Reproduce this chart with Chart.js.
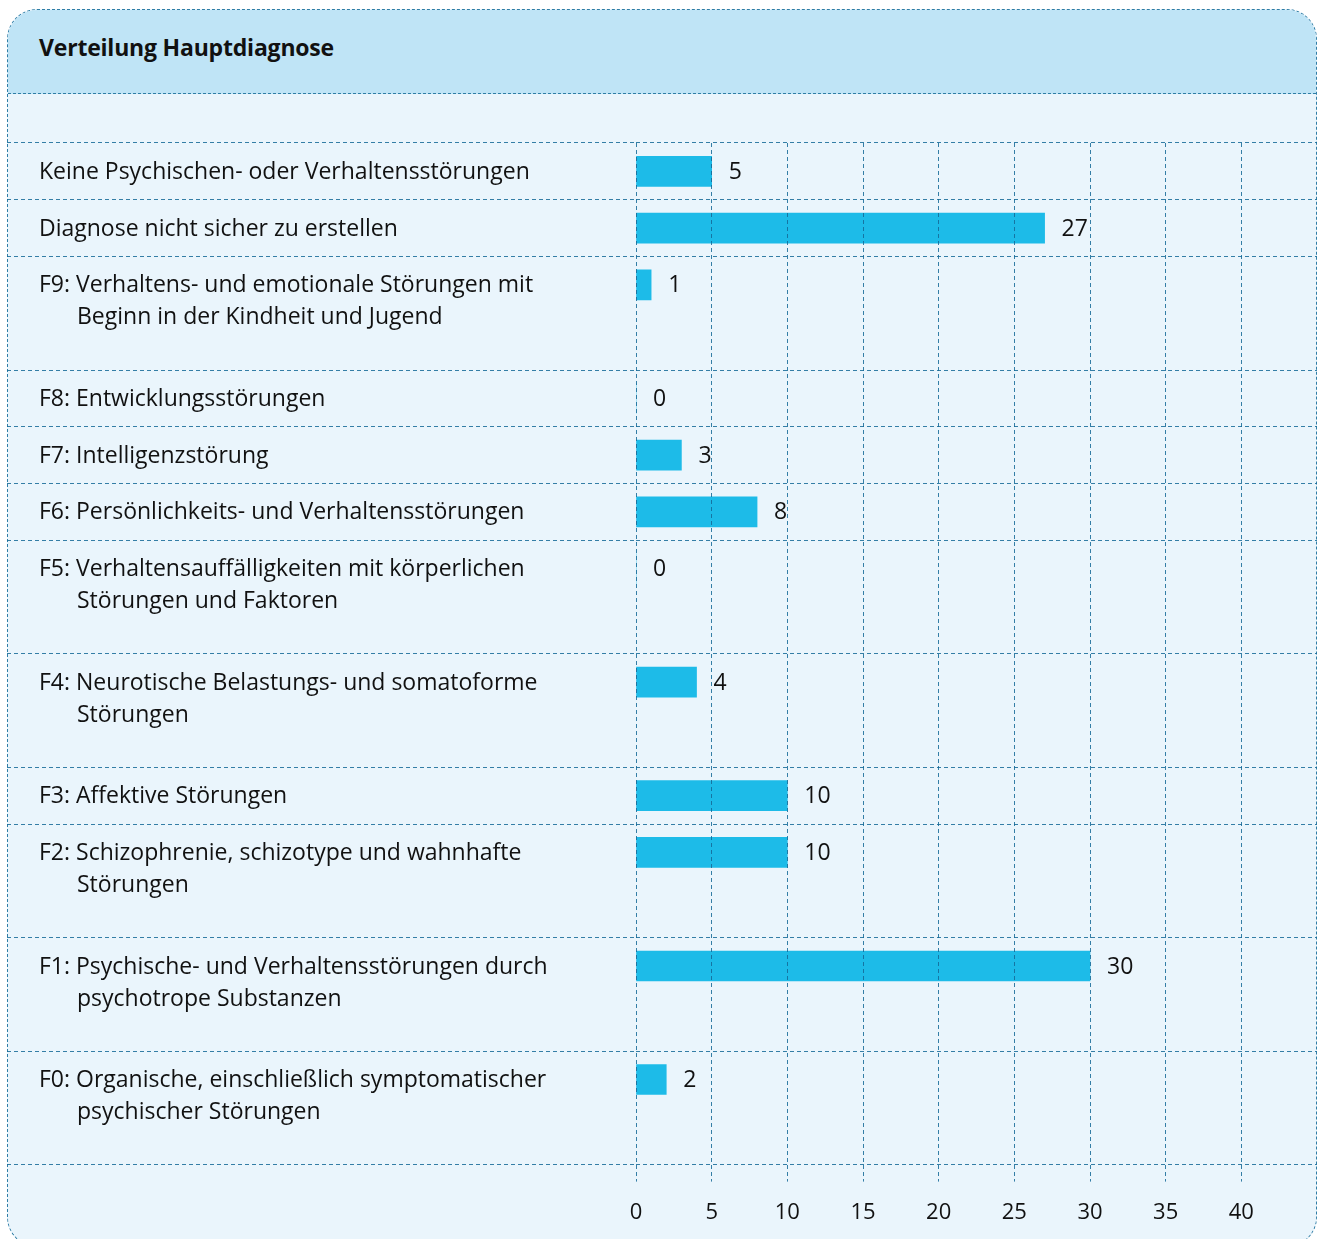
<!DOCTYPE html>
<html>
<head>
<meta charset="utf-8">
<script src="https://cdn.jsdelivr.net/npm/chart.js@4"></script>
<style>
    html, body { margin: 0; background: #fff; overflow: hidden; width: 1322px; height: 1239px; }
    body { font-family: "Open Sans", sans-serif; position: relative; }
    .card {
        position: absolute; left: 7px; top: 9px; width: 1308px; height: 1236px;
        border: 1px dashed #2f7ea6; border-radius: 30px; background: #eaf5fc; overflow: hidden;
    }
    .card-head {
        height: 83px; background: #bfe4f6; border-bottom: 1px dashed #2f7ea6;
    }
    .card-head h1 {
        margin: 0; padding: 21px 0 0 31px; font-size: 23px; font-weight: 700; color: #111;
        letter-spacing: -0.2px;
    }
    /* wider/taller than the page: the axis reserves room right of 45 and below the labels */
    .chart-wrap { position: absolute; left: 7px; top: 94px; width: 1328px; height: 1150px; }
</style>
</head>
<body>
<div class="card">
    <div class="card-head"><h1>Verteilung Hauptdiagnose</h1></div>
</div>
<div class="chart-wrap"><canvas id="diagChart"></canvas></div>
<script>
// categories, top to bottom (second entry = wrapped line)
const categories = [
    ['Keine Psychischen- oder Verhaltensstörungen'],
    ['Diagnose nicht sicher zu erstellen'],
    ['F9: Verhaltens- und emotionale Störungen mit', 'Beginn in der Kindheit und Jugend'],
    ['F8: Entwicklungsstörungen'],
    ['F7: Intelligenzstörung'],
    ['F6: Persönlichkeits- und Verhaltensstörungen'],
    ['F5: Verhaltensauffälligkeiten mit körperlichen', 'Störungen und Faktoren'],
    ['F4: Neurotische Belastungs- und somatoforme', 'Störungen'],
    ['F3: Affektive Störungen'],
    ['F2: Schizophrenie, schizotype und wahnhafte', 'Störungen'],
    ['F1: Psychische- und Verhaltensstörungen durch', 'psychotrope Substanzen'],
    ['F0: Organische, einschließlich symptomatischer', 'psychischer Störungen']
];
const values = [5, 27, 1, 0, 3, 8, 0, 4, 10, 10, 30, 2];
const xTickLabels = [0, 5, 10, 15, 20, 25, 30, 35, 40];
const xMax = 45;

// two-line labels take two rows of the grid
const slotLabels = [];
const slotValues = [];
const slotCont = [];
const slotText = [];
categories.forEach((lines, i) => {
    slotLabels.push(lines.join(' '));
    slotValues.push(values[i]);
    slotCont.push(false);
    slotText.push(lines);
    if (lines.length > 1) {
        slotLabels.push('');
        slotValues.push(null);
        slotCont.push(true);
        slotText.push(null);
    }
});

const lineColor = 'rgba(20, 105, 150, 0.85)';
const textColor = '#111';
const labelFont = '23px "Open Sans", sans-serif';

function rowLine(ctx) {
    if (ctx.index !== undefined && slotCont[ctx.index]) return 'rgba(0,0,0,0)';
    return lineColor;
}

// category labels (hanging indent) and the value next to each bar
const textLayer = {
    id: 'textLayer',
    afterDraw(chart) {
        const ctx = chart.ctx;
        const y = chart.scales.y;
        const meta = chart.getDatasetMeta(0);
        ctx.save();
        ctx.font = labelFont;
        ctx.fillStyle = textColor;
        ctx.textAlign = 'left';
        ctx.textBaseline = 'middle';
        slotText.forEach((lines, i) => {
            if (!lines) return;
            const py = y.getPixelForValue(i);
            ctx.fillText(lines[0], 32, py + 1);
            if (lines[1]) ctx.fillText(lines[1], 70, py + 33);
        });
        meta.data.forEach((bar, i) => {
            const v = slotValues[i];
            if (v === null) return;
            ctx.fillText(String(v), bar.x + 17, bar.y + 1);
        });
        ctx.restore();
    }
};

new Chart(document.getElementById('diagChart'), {
    type: 'bar',
    data: {
        labels: slotLabels,
        datasets: [{
            data: slotValues,
            backgroundColor: '#1dbbe8',
            borderWidth: 0,
            barThickness: 30
        }]
    },
    options: {
        indexAxis: 'y',
        responsive: true,
        maintainAspectRatio: false,
        animation: false,
        layout: { padding: { top: 49, bottom: 0, left: 0, right: 0 } },
        plugins: {
            legend: { display: false },
            tooltip: { enabled: false }
        },
        scales: {
            x: {
                type: 'linear',
                min: 0,
                max: xMax,
                border: { display: false, dash: [4, 3] },
                grid: {
                    z: 1,
                    color: ctx => (ctx.tick && ctx.tick.value === xMax) ? 'rgba(0,0,0,0)' : lineColor,
                    tickColor: ctx => (ctx.tick && ctx.tick.value === xMax) ? 'rgba(0,0,0,0)' : lineColor,
                    tickBorderDash: [4, 3],
                    tickLength: 17
                },
                ticks: {
                    stepSize: 5,
                    padding: 18,
                    color: textColor,
                    font: { family: '"Open Sans", sans-serif', size: 22 },
                    callback: v => xTickLabels.includes(v) ? v : ''
                }
            },
            y: {
                border: { display: false, dash: [4, 3] },
                grid: {
                    offset: true,
                    color: rowLine,
                    tickColor: rowLine,
                    tickBorderDash: [4, 3],
                    tickLength: 629
                },
                ticks: { display: false }
            }
        }
    },
    plugins: [textLayer]
});
</script>
</body>
</html>
